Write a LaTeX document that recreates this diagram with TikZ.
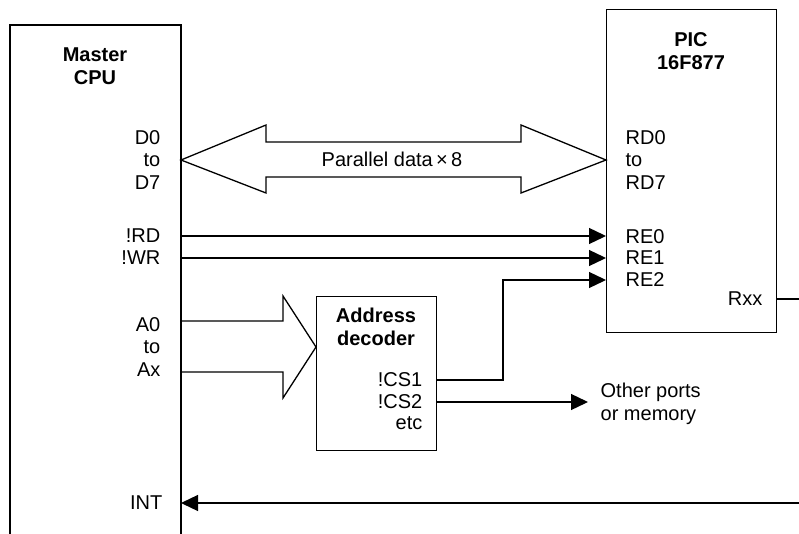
\documentclass[tikz,border=0pt]{standalone}
\usepackage{fontspec}
\setmainfont{Liberation Sans}
\usetikzlibrary{arrows.meta,positioning,calc}

\begin{document}
\begin{tikzpicture}[x=1pt, y=-1pt, line width=1.3pt,
        >={Triangle[length=17pt,width=16pt]},
        every node/.style={font=\fontsize{20}{22.8}\selectfont, inner sep=0pt},
        pinl/.style={align=right, anchor=east},
        pinr/.style={align=left, anchor=west},
        chiptitle/.style={align=center, font=\fontsize{20}{22.8}\selectfont\bfseries},
        chip/.style={draw, anchor=north west, line width=1.3pt}]
            \useasboundingbox (0,0) rectangle (799,534);

            % Master CPU (open at the bottom)
            \draw (10,534) |- (181,25) -- (181,534);
            \coordinate (cpuR) at (181,25);
            \node[chiptitle] (cpu) at (95,66) {Master\\CPU};
            \node[pinl] (dbus) at (161,160) {D0\\to\\D7};
            \node[pinl] (rd) at (161,236) {!RD};
            \node[pinl] (wr) at (161,258) {!WR};
            \node[pinl] (abus) at (161,347) {A0\\to\\Ax};
            \node[pinl] (int) at (163,503) {INT};

            % PIC
            \node[chip, minimum width=170, minimum height=323] (pic) at (606,9) {};
            \node[chiptitle] (pictitle) at (691,51) {PIC\\16F877};
            \node[pinr] (rdbus) at (625,160) {RD0\\to\\RD7};
            \node[pinr] (re0) at (625,237) {RE0};
            \node[pinr] (re1) at (625,258) {RE1};
            \node[pinr] (re2) at (625,280) {RE2};
            \node[pinl] (rxx) at (763,299) {Rxx};

            % Address decoder
            \node[chip, minimum width=120, minimum height=154] (dec) at (316,296) {};
            \node[chiptitle] (dectitle) at (376,327) {Address\\decoder};
            \node[pinl] (cs1) at (423,380) {!CS1};
            \node[pinl] (cs2) at (423,402) {!CS2};
            \node[pinl] (etc) at (423,423) {etc};
            \node[pinr] (other) at (600,404) {Other ports\\or memory};

            % Parallel data bus
            \draw (cpuR |- dbus) -- (266,125) -- (266,142) -- (521,142) -- (521,125)
                -- (rdbus -| pic.west) -- (521,193) -- (521,177) -- (266,177) -- (266,193) -- cycle;
            \node (par) at (392,159) {Parallel data\,×\,8};

            % Address bus
            \draw (181,321) -- (283,321) -- (283,296) -- (dec.west |- abus)
                -- (283,398) -- (283,372) -- (181,372);

            % Control lines
            \draw[->] (cpuR |- rd) -- (rd -| pic.west);
            \draw[->] (cpuR |- wr) -- (wr -| pic.west);
            \draw[->] (cs1 -| dec.east) -- (503,380) |- (re2 -| pic.west);
            \draw[->] (cs2 -| dec.east) -- ($(other.west |- cs2)+(-12,0)$);

            % Rxx to INT
            \coordinate (rxxout) at (799,299);
            \coordinate (intin) at (799,503);
            \draw (rxx -| pic.east) -- (rxxout);
            \draw[->] (intin) -- (int -| cpuR);
        \end{tikzpicture}
\end{document}
